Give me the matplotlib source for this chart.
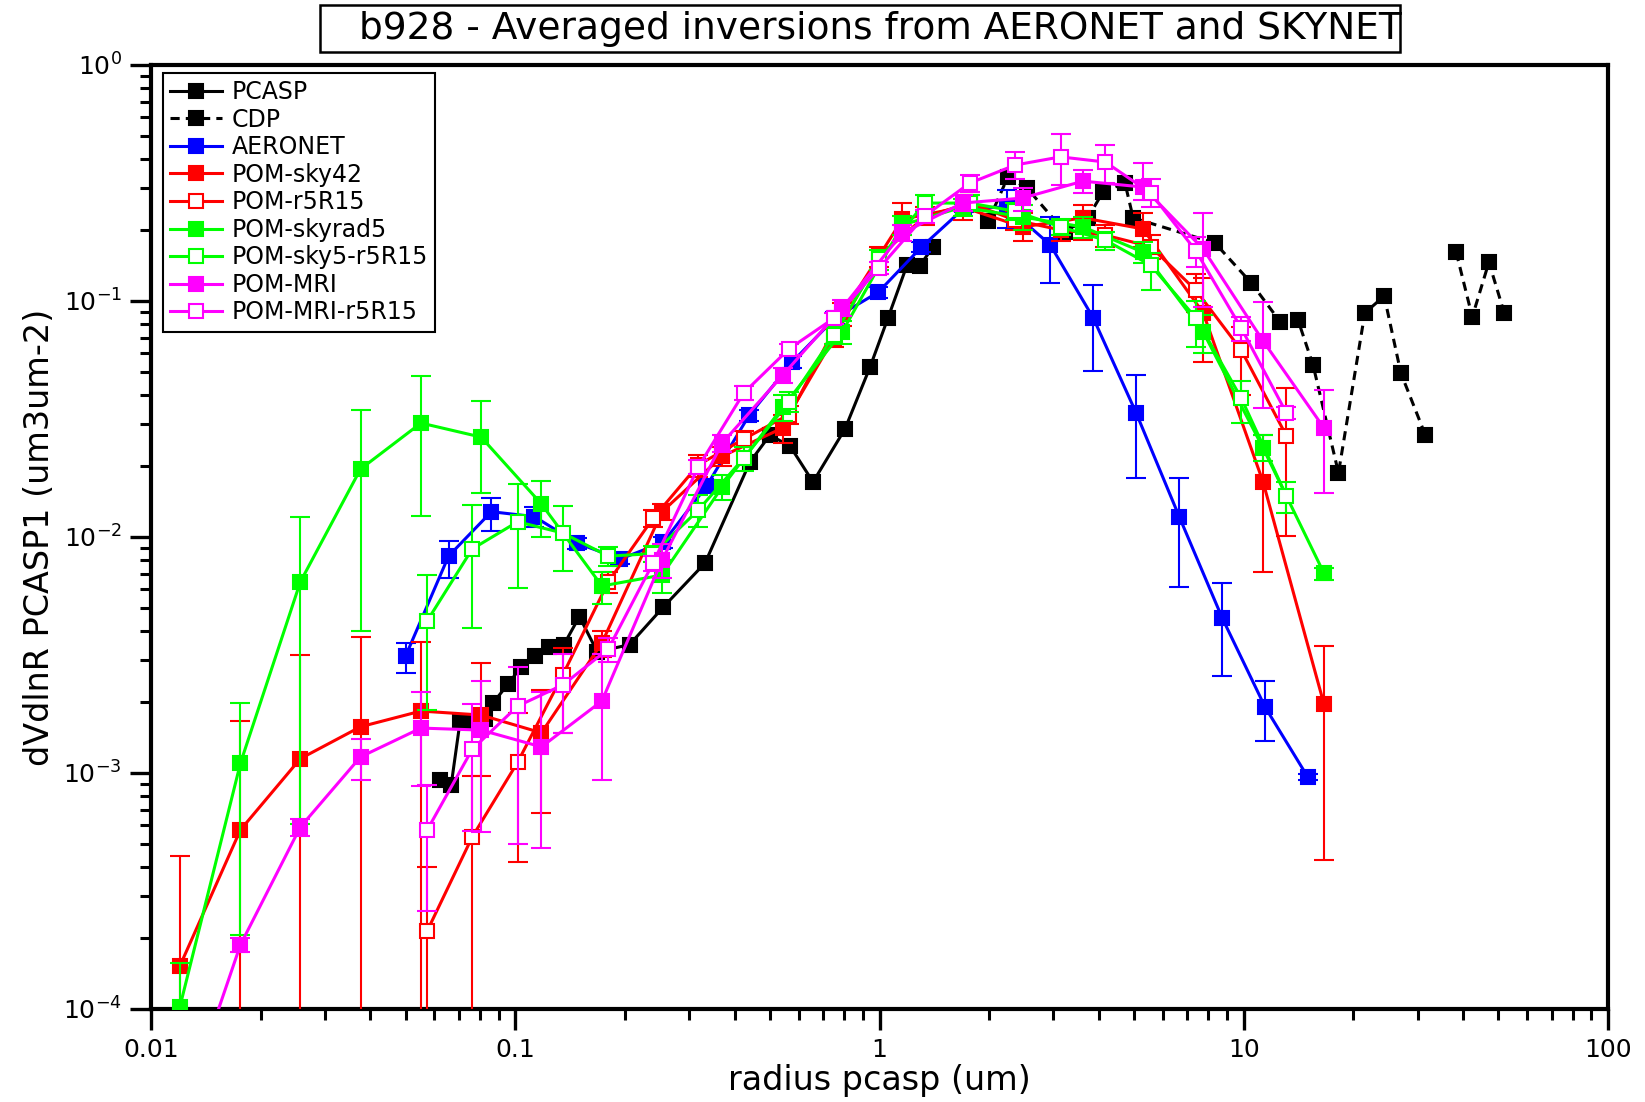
import matplotlib
matplotlib.use('Agg')
import matplotlib.pyplot as plt
import numpy as np
from matplotlib.lines import Line2D
from matplotlib.patches import Rectangle
from matplotlib.ticker import LogLocator, FixedLocator, NullFormatter, FixedFormatter

# ---------------- data ----------------
pcasp_x = [0.0621, 0.0667, 0.0705, 0.0741, 0.0825, 0.0869, 0.0955, 0.1037, 0.113, 0.124, 0.136,
           0.150, 0.168, 0.206, 0.255, 0.332, 0.441, 0.500, 0.568, 0.657, 0.804, 0.942, 1.055,
           1.19, 1.29, 1.40]
pcasp_y = [9.3e-4, 8.9e-4, 1.64e-3, 1.64e-3, 1.69e-3, 1.98e-3, 2.38e-3, 2.81e-3, 3.13e-3, 3.42e-3,
           3.5e-3, 4.6e-3, 3.26e-3, 3.5e-3, 5.05e-3, 7.76e-3, 0.0208, 0.027, 0.0243, 0.0171, 0.0287,
           0.0525, 0.0847, 0.142, 0.141, 0.169]

cdp_x = [1.99, 2.25, 2.54, 3.23, 3.73, 4.11, 4.72, 4.97, 8.34, 10.5, 12.6, 14.1, 15.5, 18.2, 21.5,
         24.3, 27.0, 31.5, np.nan, 38.3, 42.4, 47.1, 51.9]
cdp_y = [0.218, 0.335, 0.301, 0.196, 0.225, 0.290, 0.316, 0.225, 0.176, 0.119, 0.0815, 0.0828,
         0.0535, 0.0187, 0.089, 0.105, 0.0495, 0.0271, np.nan, 0.161, 0.0856, 0.146, 0.089]

aer_x = [0.05, 0.0656, 0.086, 0.1129, 0.1482, 0.1944, 0.2551, 0.3348, 0.4393, 0.5765, 0.7564,
         0.9926, 1.3025, 1.7092, 2.2428, 2.943, 3.8619, 5.0676, 6.6499, 8.7262, 11.4507, 15.0]
aer_y = [3.13e-3, 8.3e-3, 0.0128, 0.0122, 9.4e-3, 8.07e-3, 9.5e-3, 0.0164, 0.0329, 0.0552, 0.085,
         0.109, 0.169, 0.248, 0.25, 0.173, 0.0848, 0.0335, 0.0122, 4.54e-3, 1.9e-3, 9.6e-4]
aer_lo = [2.66e-3, 6.7e-3, 0.0106, 0.0110, 8.9e-3, 7.7e-3, 9.0e-3, 0.0154, 0.031, 0.052, 0.080,
          0.103, 0.161, 0.238, 0.204, 0.119, 0.0506, 0.0178, 6.15e-3, 2.58e-3, 1.36e-3, 9.3e-4]
aer_hi = [3.56e-3, 9.6e-3, 0.0147, 0.0134, 9.9e-3, 8.45e-3, 1.0e-2, 0.0174, 0.0345, 0.0582, 0.090,
          0.115, 0.177, 0.258, 0.296, 0.227, 0.117, 0.0488, 0.0178, 6.4e-3, 2.45e-3, 9.9e-4]

# SKYNET grids
pom_x = [0.0120, 0.0176, 0.0257, 0.0376, 0.0551, 0.0806, 0.118, 0.173, 0.253, 0.370, 0.543,
         0.790, 1.156, 1.69, 2.47, 3.62, 5.29, 7.74, 11.3, 16.6]
r5_x = [0.0573, 0.0762, 0.1015, 0.135, 0.180, 0.239, 0.318, 0.424, 0.564, 0.751, 0.999, 1.33,
        1.77, 2.36, 3.14, 4.17, 5.55, 7.39, 9.84, 13.1]

sky42_y = [1.52e-4, 5.74e-4, 1.15e-3, 1.57e-3, 1.83e-3, 1.76e-3, 1.48e-3, 3.56e-3, 0.0128, 0.022,
           0.029, 0.088, 0.222, 0.25, 0.206, 0.225, 0.202, 0.089, 0.0171, 1.96e-3]
sky42_lo = [1e-6, 1e-6, 1e-6, 1e-6, 1e-6, 9.7e-4, 6.8e-4, 3.1e-3, 0.0118, 0.020, 0.025, 0.078,
            0.19, 0.22, 0.18, 0.181, 0.17, 0.055, 7.1e-3, 4.28e-4]
sky42_hi = [4.45e-4, 1.66e-3, 3.16e-3, 3.77e-3, 3.59e-3, 2.92e-3, 2.25e-3, 4.0e-3, 0.0138, 0.024,
            0.033, 0.098, 0.26, 0.28, 0.235, 0.255, 0.235, 0.125, 0.027, 3.45e-3]

r5_y = [2.14e-4, 5.36e-4, 1.11e-3, 2.6e-3, 6.45e-3, 0.012, 0.0202, 0.026, 0.033, 0.07, 0.155,
        0.227, 0.26, 0.22, 0.2, 0.19, 0.17, 0.111, 0.062, 0.0268]
r5_lo = [1e-6, 1e-6, 4.2e-4, 1.48e-3, 5.8e-3, 0.011, 0.018, 0.024, 0.030, 0.064, 0.14, 0.21,
         0.24, 0.20, 0.18, 0.17, 0.15, 0.09, 0.04, 0.0101]
r5_hi = [4.0e-4, 9.7e-4, 1.8e-3, 3.4e-3, 7.1e-3, 0.013, 0.0222, 0.028, 0.036, 0.076, 0.17, 0.25,
         0.28, 0.24, 0.22, 0.21, 0.19, 0.13, 0.0775, 0.043]

skyrad5_y = [1.02e-4, 1.1e-3, 6.45e-3, 0.0194, 0.0304, 0.0265, 0.0138, 6.2e-3, 6.9e-3, 0.0163,
             0.0356, 0.074, 0.21, 0.25, 0.227, 0.206, 0.161, 0.0739, 0.0238, 7.03e-3]
skyrad5_lo = [1e-6, 2.06e-4, 6.1e-4, 4.0e-3, 0.0123, 0.0153, 0.0100, 5.2e-3, 5.8e-3, 0.0143,
              0.031, 0.066, 0.19, 0.23, 0.20, 0.185, 0.145, 0.06, 0.021, 6.6e-3]
skyrad5_hi = [1.57e-4, 1.98e-3, 0.0122, 0.0345, 0.048, 0.0377, 0.0173, 7.1e-3, 8.0e-3, 0.0183,
              0.040, 0.082, 0.23, 0.27, 0.254, 0.227, 0.177, 0.087, 0.027, 7.4e-3]

sky5r5_y = [4.41e-3, 8.9e-3, 0.0116, 0.0104, 8.3e-3, 8.5e-3, 0.013, 0.0216, 0.0373, 0.072, 0.15,
            0.26, 0.26, 0.24, 0.206, 0.181, 0.142, 0.0847, 0.0388, 0.0149]
sky5r5_lo = [1.85e-3, 4.1e-3, 6.1e-3, 7.2e-3, 7.5e-3, 7.8e-3, 0.011, 0.019, 0.034, 0.066, 0.135,
             0.24, 0.24, 0.22, 0.19, 0.165, 0.111, 0.064, 0.0305, 0.0127]
sky5r5_hi = [6.9e-3, 0.0137, 0.0168, 0.0135, 9.1e-3, 9.2e-3, 0.015, 0.024, 0.041, 0.078, 0.165,
             0.28, 0.28, 0.26, 0.222, 0.197, 0.16, 0.1, 0.046, 0.0171]

mri_y = [3.3e-5, 1.87e-4, 5.9e-4, 1.17e-3, 1.55e-3, 1.52e-3, 1.29e-3, 2.02e-3, 8.0e-3, 0.025,
         0.0486, 0.0934, 0.194, 0.26, 0.273, 0.322, 0.304, 0.166, 0.0677, 0.029]
mri_lo = [3.3e-5, 1.75e-4, 5.4e-4, 9.3e-4, 8.8e-4, 5.6e-4, 4.8e-4, 9.3e-4, 6.7e-3, 0.023, 0.045,
          0.086, 0.18, 0.24, 0.24, 0.287, 0.268, 0.094, 0.0352, 0.0154]
mri_hi = [3.3e-5, 2.0e-4, 6.4e-4, 1.4e-3, 2.2e-3, 2.46e-3, 2.2e-3, 3.2e-3, 9.3e-3, 0.027, 0.052,
          0.101, 0.21, 0.28, 0.30, 0.36, 0.384, 0.236, 0.099, 0.042]

mrir5_y = [5.73e-4, 1.26e-3, 1.92e-3, 2.36e-3, 3.35e-3, 7.76e-3, 0.0198, 0.0408, 0.0626, 0.0847,
           0.138, 0.229, 0.316, 0.377, 0.408, 0.388, 0.287, 0.163, 0.0768, 0.0335]
mrir5_lo = [2.6e-4, 5.7e-4, 5.0e-4, 1.48e-3, 2.95e-3, 7.2e-3, 0.0185, 0.038, 0.059, 0.08, 0.13,
            0.215, 0.29, 0.33, 0.31, 0.316, 0.25, 0.14, 0.068, 0.0315]
mrir5_hi = [8.9e-4, 1.96e-3, 2.8e-3, 3.2e-3, 3.75e-3, 8.3e-3, 0.0211, 0.0436, 0.066, 0.089, 0.146,
            0.243, 0.342, 0.43, 0.51, 0.46, 0.33, 0.186, 0.0855, 0.0355]

x_ticks = [0.01, 0.1, 1, 10, 100]
x_ticklabels = ['0.01', '0.1', '1', '10', '100']

# ---------------- figure ----------------
W, H = 1645, 1102
fig = plt.figure(figsize=(W / 100, H / 100), dpi=100)
ax = fig.add_axes([151 / W, 1 - 1009 / H, (1608 - 151) / W, (1009 - 65) / H])
ax.set_xscale('log')
ax.set_yscale('log')

BLACK, BLUE, RED, GREEN, MAG = '#000000', '#0000ff', '#ff0000', '#00ff00', '#ff00ff'
DASH = (0, (3, 2))


def draw(x, y, lo, hi, color, filled, ls='-', z=3):
    x = np.asarray(x, float)
    y = np.asarray(y, float)
    if lo is not None:
        yerr = [y - np.asarray(lo, float), np.asarray(hi, float) - y]
        ax.errorbar(x, y, yerr=yerr, fmt='none', ecolor=color, elinewidth=1.5,
                    capsize=7, capthick=1.5, zorder=z)
    ax.plot(x, y, ls=ls, color=color, lw=2.2, marker='s', ms=10.5,
            mfc=color if filled else 'white', mec=color, mew=1.5, zorder=z + 0.5)


draw(pcasp_x, pcasp_y, None, None, BLACK, True, '-', 3)
draw(cdp_x, cdp_y, None, None, BLACK, True, DASH, 3)
draw(aer_x, aer_y, aer_lo, aer_hi, BLUE, True, '-', 4)
draw(pom_x, sky42_y, sky42_lo, sky42_hi, RED, True, '-', 5)
draw(r5_x, r5_y, r5_lo, r5_hi, RED, False, '-', 6)
draw(pom_x, skyrad5_y, skyrad5_lo, skyrad5_hi, GREEN, True, '-', 7)
draw(r5_x, sky5r5_y, sky5r5_lo, sky5r5_hi, GREEN, False, '-', 8)
draw(pom_x, mri_y, mri_lo, mri_hi, MAG, True, '-', 9)
draw(r5_x, mrir5_y, mrir5_lo, mrir5_hi, MAG, False, '-', 10)

ax.set_xlim(0.01, 100)
ax.set_ylim(1e-4, 1)

ax.xaxis.set_major_locator(FixedLocator(x_ticks))
ax.xaxis.set_major_formatter(FixedFormatter(x_ticklabels))
ax.xaxis.set_minor_locator(LogLocator(base=10, subs=np.arange(2, 10), numticks=20))
ax.xaxis.set_minor_formatter(NullFormatter())
ax.yaxis.set_major_locator(LogLocator(base=10, numticks=10))
ax.yaxis.set_minor_locator(LogLocator(base=10, subs=np.arange(2, 10), numticks=20))
ax.yaxis.set_minor_formatter(NullFormatter())

ax.tick_params(which='major', direction='out', length=15, width=2.4, labelsize=18, pad=6,
               top=False, right=False)
ax.tick_params(which='minor', direction='out', length=8, width=2.2, top=False, right=False)
for s in ax.spines.values():
    s.set_linewidth(3)

ax.set_xlabel('radius pcasp (um)', fontsize=24, labelpad=1)
ax.set_ylabel('dVdlnR PCASP1 (um3um-2)', fontsize=24, labelpad=5)

# legend
labels = ['PCASP', 'CDP', 'AERONET', 'POM-sky42', 'POM-r5R15', 'POM-skyrad5',
          'POM-sky5-r5R15', 'POM-MRI', 'POM-MRI-r5R15']
styles = [(BLACK, True, '-'), (BLACK, True, DASH), (BLUE, True, '-'), (RED, True, '-'),
          (RED, False, '-'), (GREEN, True, '-'), (GREEN, False, '-'), (MAG, True, '-'),
          (MAG, False, '-')]
handles = [Line2D([], [], color=c, ls=ls, lw=2.2, marker='s', ms=10,
                  mfc=c if f else 'white', mec=c, mew=1.5) for c, f, ls in styles]
leg = ax.legend(handles, labels, loc='upper left', bbox_to_anchor=(163 / W, 1 - 73 / H),
                bbox_transform=fig.transFigure, borderaxespad=0, fontsize=17, numpoints=1,
                handlelength=2.2, handletextpad=0.4, labelspacing=0.15, borderpad=0.3,
                fancybox=False, framealpha=1, edgecolor='black')
leg.get_frame().set_linewidth(1.5)

# title in a box
fig.patches.append(Rectangle((320 / W, 1 - 52 / H), (1400 - 320) / W, 47 / H,
                             transform=fig.transFigure, fill=False, ec='black', lw=1.8))
fig.text(880 / W, 1 - 29 / H, 'b928 - Averaged inversions from AERONET and SKYNET',
         ha='center', va='center', fontsize=27)

fig.savefig('out.png', dpi=100)
